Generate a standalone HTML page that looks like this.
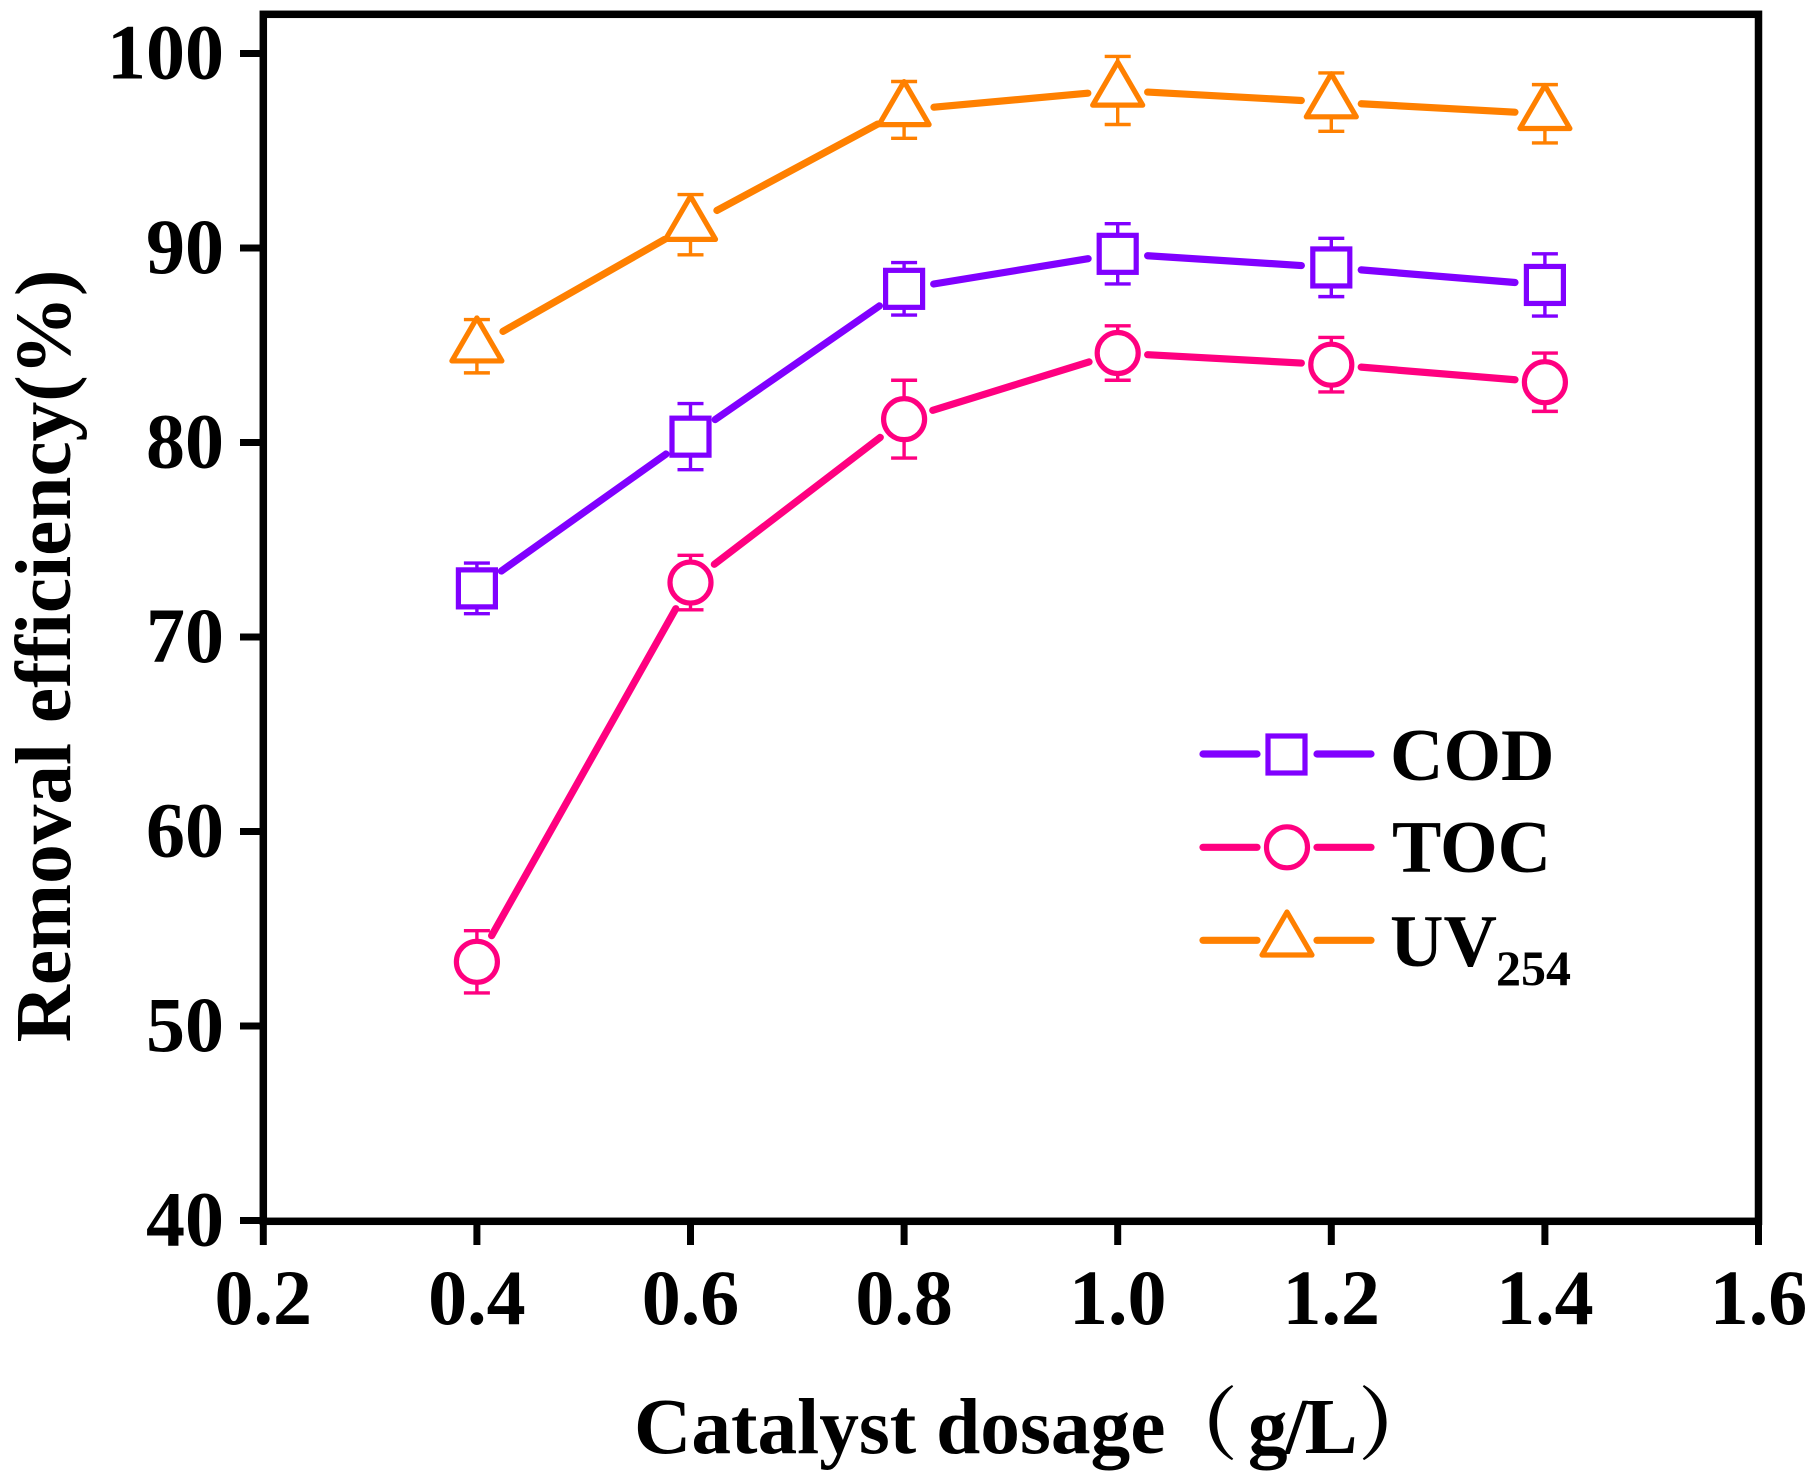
<!DOCTYPE html>
<html lang="en">
<head>
<meta charset="utf-8">
<title>Removal efficiency vs catalyst dosage</title>
<style>
html,body{margin:0;padding:0;background:#fff;width:1820px;height:1482px;overflow:hidden}
svg{display:block}
text{font-family:"Liberation Serif","Noto Serif CJK SC",serif;font-weight:bold;fill:#000}
</style>
</head>
<body>
<svg id="chart" xmlns="http://www.w3.org/2000/svg" width="1820" height="1482" viewBox="0 0 1820 1482">
  <rect x="0" y="0" width="1820" height="1482" fill="#fff"/>
  <g id="series-layer"></g>
  <rect x="263.3" y="14.3" width="1495.2" height="1207" fill="none" stroke="#000" stroke-width="7.5"/>
  <g id="axis-layer"></g>
  <text x="634" y="1453" font-size="79.4">Catalyst dosage<tspan dx="-7">（</tspan><tspan dx="10" letter-spacing="-2.5">g/L</tspan><tspan dx="3">）</tspan></text>
  <text transform="translate(70 656) rotate(-90)" text-anchor="middle" font-size="79.3">Removal efficiency(%)</text>
  <g>
    <g>
      <line x1="1203" y1="754" x2="1257" y2="754" stroke="#8000ff" stroke-width="7.2" stroke-linecap="round"/>
      <line x1="1317" y1="754" x2="1371" y2="754" stroke="#8000ff" stroke-width="7.2" stroke-linecap="round"/>
      <rect x="1268" y="736" width="37" height="37" fill="#fff" stroke="#8000ff" stroke-width="5.2"/>
      <text x="1390" y="780" font-size="74">COD</text>
    </g>
    <g>
      <line x1="1203" y1="847.3" x2="1257" y2="847.3" stroke="#ff0080" stroke-width="7.2" stroke-linecap="round"/>
      <line x1="1317" y1="847.3" x2="1371" y2="847.3" stroke="#ff0080" stroke-width="7.2" stroke-linecap="round"/>
      <circle cx="1287" cy="847.3" r="20.5" fill="#fff" stroke="#ff0080" stroke-width="5.2"/>
      <text x="1392" y="872" font-size="74">TOC</text>
    </g>
    <g>
      <line x1="1203" y1="940.3" x2="1257" y2="940.3" stroke="#ff8000" stroke-width="7.2" stroke-linecap="round"/>
      <line x1="1317" y1="940.3" x2="1371" y2="940.3" stroke="#ff8000" stroke-width="7.2" stroke-linecap="round"/>
      <polygon points="1287,912 1262,955 1312,955" fill="#fff" stroke="#ff8000" stroke-width="5.2" stroke-linejoin="round"/>
      <text x="1390" y="966" font-size="74">UV</text>
      <text x="1496" y="985" font-size="50">254</text>
    </g>
  </g>
</svg>
<script>
const dosages = [0.4, 0.6, 0.8, 1.0, 1.2, 1.4];
const codValues = [72.5, 80.3, 87.9, 89.7, 89.0, 88.1];
const codErrors = [1.3, 1.7, 1.35, 1.55, 1.5, 1.6];
const tocValues = [53.3, 72.8, 81.2, 84.6, 84.0, 83.1];
const tocErrors = [1.6, 1.4, 2.0, 1.4, 1.4, 1.5];
const uvValues = [84.95, 91.2, 97.1, 98.1, 97.5, 96.9];
const uvErrors = [1.37, 1.55, 1.46, 1.75, 1.5, 1.5];
const xTickValues = [0.2, 0.4, 0.6, 0.8, 1.0, 1.2, 1.4, 1.6];
const xTickLabels = ['0.2', '0.4', '0.6', '0.8', '1.0', '1.2', '1.4', '1.6'];
const yTickValues = [40, 50, 60, 70, 80, 90, 100];
const yTickLabels = ['40', '50', '60', '70', '80', '90', '100'];

const NS = 'http://www.w3.org/2000/svg';
const seriesLayer = document.getElementById('series-layer');
const axisLayer = document.getElementById('axis-layer');

function xScale(v) { return 263.3 + (v - 0.2) * (1495.2 / 1.4); }
function yScale(v) { return 53.5 + (100 - v) * 19.45; }

function make(tag, parent, attrs) {
  const el = document.createElementNS(NS, tag);
  for (const k in attrs) el.setAttribute(k, attrs[k]);
  parent.appendChild(el);
  return el;
}

xTickValues.forEach(function (v, i) {
  const x = xScale(v);
  const tick = make('line', axisLayer, { x1: x, x2: x, y1: 1221.3, y2: 1245, stroke: '#000', 'stroke-width': 7 });
  
  
  const label = make('text', axisLayer, { x: x, y: 1324, 'text-anchor': 'middle', 'font-size': 78 });
  
  
  label.textContent = xTickLabels[i];
});

yTickValues.forEach(function (v, i) {
  const y = yScale(v);
  const tick = make('line', axisLayer, { x1: 240, x2: 263.3, y1: y, y2: y, stroke: '#000', 'stroke-width': 7 });
  
  
  const label = make('text', axisLayer, { x: 224, y: y + 25, 'text-anchor': 'end', 'font-size': 78 });
  
  
  label.textContent = yTickLabels[i];
});

function drawSeries(seriesName, values, errors, color, shape) {
  const group = make('g', seriesLayer, {});
  
  
  for (let i = 0; i < values.length - 1; i++) {
    const x1 = xScale(dosages[i]), y1 = yScale(values[i]);
    const x2 = xScale(dosages[i + 1]), y2 = yScale(values[i + 1]);
    const len = Math.hypot(x2 - x1, y2 - y1);
    const ux = (x2 - x1) / len, uy = (y2 - y1) / len;
    const seg = make('line', group, {
      x1: x1 + ux * 30, y1: y1 + uy * 30, x2: x2 - ux * 30, y2: y2 - uy * 30,
      stroke: color, 'stroke-width': 7.2, 'stroke-linecap': 'round'
    });
    
    
  }
  values.forEach(function (v, i) {
    const x = xScale(dosages[i]), y = yScale(v);
    const top = yScale(v + errors[i]), bottom = yScale(v - errors[i]);
    const whisker = make('path', group, {
      d: 'M' + x + ' ' + top + 'V' + bottom + 'M' + (x - 13) + ' ' + top + 'H' + (x + 13) + 'M' + (x - 13) + ' ' + bottom + 'H' + (x + 13),
      stroke: color, 'stroke-width': 3.4, fill: 'none'
    });
    
    
    let marker;
    if (shape === 'square') {
      marker = make('rect', group, { x: x - 18.5, y: y - 18.5, width: 37, height: 37, fill: '#fff', stroke: color, 'stroke-width': 5.2 });
    } else if (shape === 'circle') {
      marker = make('circle', group, { cx: x, cy: y, r: 20.5, fill: '#fff', stroke: color, 'stroke-width': 5.2 });
    } else {
      marker = make('polygon', group, {
        points: x + ',' + (y - 28.3) + ' ' + (x - 25) + ',' + (y + 14.7) + ' ' + (x + 25) + ',' + (y + 14.7),
        fill: '#fff', stroke: color, 'stroke-width': 5.2, 'stroke-linejoin': 'round'
      });
    }
    
    
  });
}

drawSeries('uv254', uvValues, uvErrors, '#ff8000', 'triangle');
drawSeries('cod', codValues, codErrors, '#8000ff', 'square');
drawSeries('toc', tocValues, tocErrors, '#ff0080', 'circle');
</script>
</body>
</html>
